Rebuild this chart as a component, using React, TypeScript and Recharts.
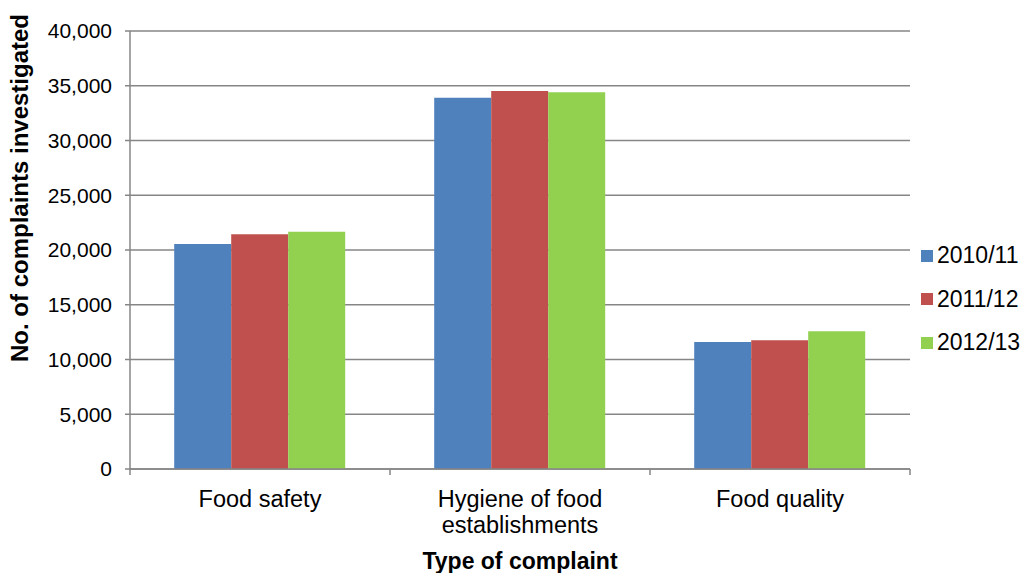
import { BarChart, Bar, XAxis, YAxis, CartesianGrid, Label } from 'recharts';

const CATEGORIES = ['Food safety', 'Hygiene of food establishments', 'Food quality'];
// Wrapped lines for the category labels
const CATEGORY_LINES: string[][] = [['Food safety'], ['Hygiene of food', 'establishments'], ['Food quality']];

const SERIES_NAMES = ['2010/11', '2011/12', '2012/13'];
const SERIES_COLORS = ['#4F81BD', '#C0504D', '#92D050'];

const VALUES_2010 = [20550, 33910, 11600];
const VALUES_2011 = [21430, 34520, 11750];
const VALUES_2012 = [21670, 34400, 12575];

const Y_TICKS = [0, 5000, 10000, 15000, 20000, 25000, 30000, 35000, 40000];

const data = CATEGORIES.map((name, i) => ({
  name,
  [SERIES_NAMES[0]]: VALUES_2010[i],
  [SERIES_NAMES[1]]: VALUES_2011[i],
  [SERIES_NAMES[2]]: VALUES_2012[i],
}));

const FONT = '"Liberation Sans", Arial, sans-serif';
const GRID = '#868686';

const W = 1028;
const H = 573;
const MARGIN = { top: 31, right: 118, bottom: 0, left: 0 };
const Y_AXIS_W = 130;
const X_AXIS_H = 104;
const PLOT_W = W - MARGIN.left - MARGIN.right - Y_AXIS_W;
const HALF_BAND = PLOT_W / CATEGORIES.length / 2;

function CategoryTick(props: any) {
  const { x, y, index } = props;
  const lines = CATEGORY_LINES[index] || [String(props.payload.value)];
  return (
    <g>
      <line x1={x - HALF_BAND} x2={x - HALF_BAND} y1={y} y2={y + 6} stroke={GRID} strokeWidth={1.5} />
      {index === CATEGORIES.length - 1 && (
        <line x1={x + HALF_BAND} x2={x + HALF_BAND} y1={y} y2={y + 6} stroke={GRID} strokeWidth={1.5} />
      )}
      <text x={x} y={y + 38} textAnchor="middle" fontFamily={FONT} fontSize={23.5} fill="#000">
        {lines.map((l, i) => (
          <tspan key={i} x={x} dy={i === 0 ? 0 : 26}>
            {l}
          </tspan>
        ))}
      </text>
    </g>
  );
}

export default function App() {
  return (
    <div style={{ position: 'absolute', left: 0, top: 0, width: W, height: H, background: '#fff' }}>
      <BarChart
        width={W}
        height={H}
        data={data}
        margin={MARGIN}
        barCategoryGap="17%"
        barGap={0}
      >
        <CartesianGrid vertical={false} stroke={GRID} strokeWidth={1.5} />
        <XAxis
          dataKey="name"
          height={X_AXIS_H}
          axisLine={{ stroke: GRID, strokeWidth: 1.5 }}
          tickLine={false}
          tickSize={0}
          tickMargin={0}
          interval={0}
          tick={<CategoryTick />}
        >
          <Label
            content={() => (
              <text x={MARGIN.left + Y_AXIS_W + PLOT_W / 2} y={569} textAnchor="middle"
                fontFamily={FONT} fontSize={23} fontWeight="bold" fill="#000">
                Type of complaint
              </text>
            )}
          />
        </XAxis>
        <YAxis
          width={Y_AXIS_W}
          domain={[0, 40000]}
          ticks={Y_TICKS}
          interval={0}
          axisLine={{ stroke: GRID, strokeWidth: 1.5 }}
          tickLine={{ stroke: GRID, strokeWidth: 1.5 }}
          tickSize={5}
          tickMargin={13}
          tick={{ fill: '#000', fontFamily: FONT, fontSize: 21 }}
          tickFormatter={(v: number) => v.toLocaleString('en-US')}
        >
          <Label
            content={() => (
              <text x={0} y={0} transform="translate(28, 188) rotate(-90)" textAnchor="middle"
                fontFamily={FONT} fontSize={24} fontWeight="bold" fill="#000">
                No. of complaints investigated
              </text>
            )}
          />
        </YAxis>
        {SERIES_NAMES.map((s, i) => (
          <Bar key={s} dataKey={s} fill={SERIES_COLORS[i]} isAnimationActive={false} />
        ))}
      </BarChart>
      {/* legend on the right, vertically centred */}
      <div style={{ position: 'absolute', left: 921, top: 234, fontFamily: FONT, fontSize: 23 }}>
        {SERIES_NAMES.map((s, i) => (
          <div key={s} style={{ display: 'flex', alignItems: 'center', height: 43.5 }}>
            <span style={{ width: 12, height: 12, background: SERIES_COLORS[i], marginRight: 4 }} />
            <span>{s}</span>
          </div>
        ))}
      </div>
    </div>
  );
}
